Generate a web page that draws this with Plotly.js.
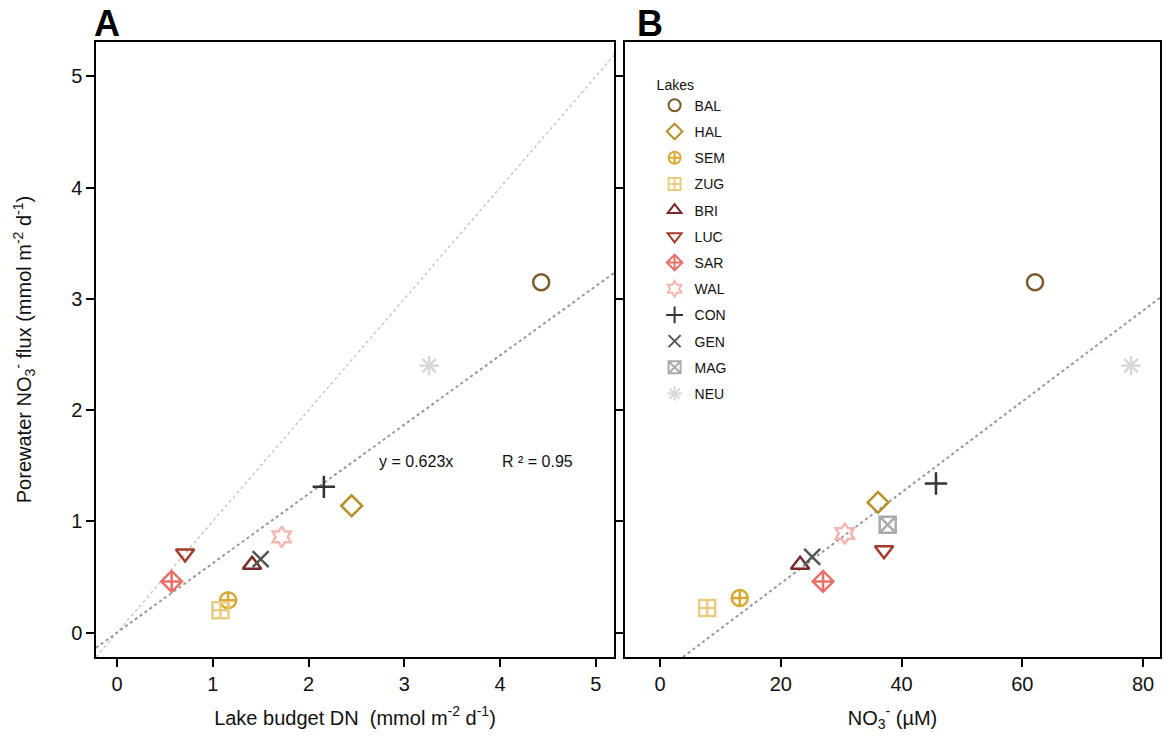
<!DOCTYPE html>
<html><head><meta charset="utf-8">
<script src="https://cdn.plot.ly/plotly-3.0.1.min.js"></script>
<style>body{margin:0;background:#fff}#plot{width:1173px;height:740px}</style>
</head><body><div id="plot"></div>
<script>
const lakes = ["BAL","HAL","SEM","ZUG","BRI","LUC","SAR","WAL","CON","GEN","MAG","NEU"];
const budgetDN = [4.43, 2.45, 1.16, 1.08, 1.41, 0.71, 0.57, 1.72, 2.16, 1.50, null, 3.26];
const fluxA =    [3.15, 1.14, 0.29, 0.20, 0.61, 0.71, 0.46, 0.86, 1.31, 0.66, null, 2.40];
const no3 =      [62.1, 36.1, 13.2, 7.8, 23.2, 37.1, 27.0, 30.6, 45.7, 25.2, 37.7, 78.0];
const fluxB =    [3.15, 1.17, 0.31, 0.22, 0.61, 0.74, 0.46, 0.89, 1.34, 0.68, 0.97, 2.40];
const symbols = ["circle-open","diamond-open","circle-cross-open","square-cross-open","triangle-up-open","triangle-down-open","diamond-cross-open","hexagram-open","cross-thin-open","x-thin-open","square-x-open","asterisk-open"];
const colors = ["#7a5a2a","#b8902a","#d9a832","#e8cc80","#7a2a2a","#a33a2a","#e8706a","#f4b8b0","#333333","#555555","#aaaaaa","#d8d8d8"];
const oneToOneX = [-0.22, 5.3];
const oneToOneY = [-0.22, 5.3];
const fitAX = [-0.22, 5.19];
const fitAY = [-0.137, 3.233];
const fitBX = [3.8, 82.8];
const fitBY = [-0.22, 3.01];

const traces = [];
traces.push({x: oneToOneX, y: oneToOneY, xaxis:'x', yaxis:'y', mode:'lines', line:{color:'#c8c8c8', width:1.5, dash:'dot'}, showlegend:false, hoverinfo:'skip'});
traces.push({x: fitAX, y: fitAY, xaxis:'x', yaxis:'y', mode:'lines', line:{color:'#999', width:2, dash:'dot'}, showlegend:false, hoverinfo:'skip'});
traces.push({x: fitBX, y: fitBY, xaxis:'x2', yaxis:'y2', mode:'lines', line:{color:'#999', width:2, dash:'dot'}, showlegend:false, hoverinfo:'skip'});
lakes.forEach((l,i)=>{
  traces.push({x:[budgetDN[i]], y:[fluxA[i]], xaxis:'x', yaxis:'y', mode:'markers', name:l, legendgroup:l, showlegend:false,
    marker:{symbol:symbols[i], size:16, color:colors[i], line:{color:colors[i], width:2.5}}});
  traces.push({x:[no3[i]], y:[fluxB[i]], xaxis:'x2', yaxis:'y2', mode:'markers', name:l, legendgroup:l, showlegend:true,
    marker:{symbol:symbols[i], size:16, color:colors[i], line:{color:colors[i], width:2.5}}});
});

const axBase = {showline:true, linecolor:'#000', linewidth:1.5, mirror:true, ticks:'outside', ticklen:8, tickwidth:1.5, tickcolor:'#000', showgrid:false, zeroline:false, tickfont:{family:'Liberation Sans, Arial', size:20, color:'#111'}};
const layout = {
  width:1173, height:740, paper_bgcolor:'#fff', plot_bgcolor:'#fff',
  margin:{l:96, r:13, t:42, b:83},
  font:{family:'Liberation Sans, Arial', color:'#111'},
  xaxis: Object.assign({}, axBase, {domain:[0,0.4868], range:[-0.22,5.19], tickvals:[0,1,2,3,4,5], title:{text:'Lake budget DN  (mmol m<sup>-2</sup> d<sup>-1</sup>)', font:{size:20}, standoff:17}}),
  yaxis: Object.assign({}, axBase, {range:[-0.22,5.31], tickvals:[0,1,2,3,4,5], title:{text:'Porewater NO<sub>3</sub><sup>-</sup> flux (mmol m<sup>-2</sup> d<sup>-1</sup>)', font:{size:20}, standoff:34}}),
  xaxis2: Object.assign({}, axBase, {anchor:'y2', domain:[0.4972,1], range:[-5.8,82.8], tickvals:[0,20,40,60,80], title:{text:'NO<sub>3</sub><sup>-</sup> (µM)', font:{size:20}, standoff:17}}),
  yaxis2: Object.assign({}, axBase, {anchor:'x2', range:[-0.22,5.31], tickvals:[0,1,2,3,4,5], showticklabels:false}),
  legend:{x:0.525, xanchor:'left', y:0.952, yanchor:'top', bgcolor:'rgba(0,0,0,0)', font:{size:14, family:'Liberation Sans, Arial'}, title:{text:'Lakes', font:{size:14}}, tracegroupgap:5, itemsizing:'constant', itemwidth:30},
  annotations:[
    {xref:'paper', yref:'paper', x:-0.004, y:1.0, xanchor:'left', yanchor:'bottom', yshift:-4, text:'<b>A</b>', showarrow:false, font:{size:36, color:'#000'}},
    {xref:'paper', yref:'paper', x:0.507, y:1.0, xanchor:'left', yanchor:'bottom', yshift:-4, text:'<b>B</b>', showarrow:false, font:{size:36, color:'#000'}},
    {xref:'x', yref:'y', x:2.72, y:1.54, xanchor:'left', yanchor:'middle', text:'y = 0.623x', showarrow:false, font:{size:16, color:'#111'}},
    {xref:'x', yref:'y', x:4.0, y:1.54, xanchor:'left', yanchor:'middle', text:'R ² = 0.95', showarrow:false, font:{size:16, color:'#111'}}
  ]
};
Plotly.newPlot('plot', traces, layout, {displayModeBar:false});
</script></body></html>
